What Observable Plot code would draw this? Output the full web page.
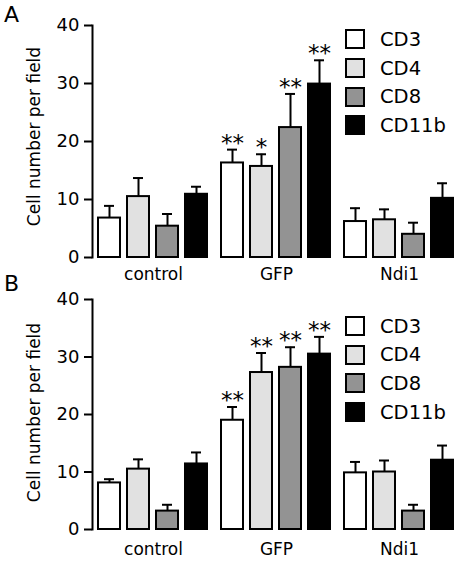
<!DOCTYPE html>
<html>
<head>
<meta charset="utf-8">
<script src="https://cdn.jsdelivr.net/npm/d3@7"></script>
<script src="https://cdn.jsdelivr.net/npm/@observablehq/plot@0.6"></script>
<style>
  html, body { margin: 0; padding: 0; background: white; }
  #wrap { position: relative; width: 459px; height: 562px; overflow: hidden;
          font-family: "DejaVu Sans", sans-serif; color: black; }
  .panel { position: absolute; left: 0; }
  .letter { position: absolute; font-size: 22px; line-height: 22px; }
  .legend { position: absolute; left: 345px; font-size: 19.5px; }
  .legend .row { display: flex; align-items: center; height: 28.7px; }
  .legend .sw { width: 20px; height: 20px; box-sizing: border-box; border: 2px solid black; margin-right: 15px; }
</style>
</head>
<body>
<div id="wrap"></div>
<script>
// ---- data ----
const groups = ["control", "GFP", "Ndi1"];
const series = ["CD3", "CD4", "CD8", "CD11b"];
const fills = ["white", "#e1e1e1", "#939393", "black"];
const yTicks = [0, 10, 20, 30, 40];
const yLabel = "Cell number per field";

// Panel A (rows = groups, columns = series)
const meansA  = [[6.8, 10.5, 5.4, 10.9], [16.3, 15.7, 22.4, 29.9], [6.2, 6.5, 4.0, 10.2]];
const errorsA = [[2.1, 3.2, 2.1, 1.3], [2.3, 2.1, 5.8, 4.1], [2.3, 1.8, 2.0, 2.6]];
const starsA  = [["", "", "", ""], ["**", "*", "**", "**"], ["", "", "", ""]];

// Panel B
const meansB  = [[8.1, 10.5, 3.2, 11.4], [19.0, 27.3, 28.2, 30.5], [9.85, 10.0, 3.2, 12.05]];
const errorsB = [[0.65, 1.7, 1.1, 2.0], [2.3, 3.4, 3.5, 3.0], [1.9, 2.0, 1.1, 2.55]];
const starsB  = [["", "", "", ""], ["**", "**", "**", "**"], ["", "", "", ""]];

function table(means, errors, stars) {
  const rows = [];
  groups.forEach((g, i) => series.forEach((s, j) => rows.push({
    group: g, series: s, mean: means[i][j], upper: means[i][j] + errors[i][j], stars: stars[i][j]
  })));
  return rows;
}

function panel(rows, o) {
  return Plot.plot({
    width: 459, height: 281,
    marginLeft: 97, marginRight: 5, marginTop: o.marginTop, marginBottom: o.marginBottom,
    style: { fontFamily: "'DejaVu Sans', sans-serif", fontSize: "17px", color: "black", background: "transparent", overflow: "visible" },
    fx: { domain: groups, paddingInner: 0.107, paddingOuter: 0, axis: null, label: null },
    x: { domain: series, paddingInner: 0.225, paddingOuter: 0, axis: null },
    y: { domain: [0, 40], axis: null },
    color: { domain: series, range: fills },
    marks: [
      Plot.barY(rows, { fx: "group", x: "series", y: "mean", fill: "series", stroke: "black", strokeWidth: 2 }),
      Plot.ruleX(rows, { fx: "group", x: "series", y1: "mean", y2: "upper", stroke: "black", strokeWidth: 2 }),
      Plot.tickY(rows, { fx: "group", x: "series", y: "upper", stroke: "black", strokeWidth: 2, insetLeft: 6, insetRight: 6 }),
      Plot.text(rows, { fx: "group", x: "series", y: "upper", text: "stars", fill: "black", fontSize: 23, lineAnchor: "bottom", dy: 1 }),
      Plot.axisY({ ticks: yTicks, tickSize: 8, tickPadding: 5, dx: -6, strokeWidth: 2, tickFormat: d => String(d), label: null, fontSize: 18, fill: "black" }),
      Plot.frame({ anchor: "left", dx: -6, strokeWidth: 2, facetAnchor: "left" }),
      Plot.axisFx({ anchor: "bottom", tickSize: 0, tickPadding: o.labelPad, label: null, fontSize: 17, fill: "black" }),
      Plot.text([yLabel], { frameAnchor: "left", textAnchor: "middle", rotate: -90, dx: -64, dy: o.labelDy, fontSize: 17, fill: "black", facetAnchor: "left" })
    ]
  });
}

const wrap = document.getElementById("wrap");

function addPanel(top, rows, o, letter, letterTop, legendTop) {
  const div = document.createElement("div");
  div.className = "panel";
  div.style.top = top + "px";
  div.appendChild(panel(rows, o));
  wrap.appendChild(div);

  const L = document.createElement("div");
  L.className = "letter";
  L.style.top = letterTop + "px";
  L.style.left = "4px";
  L.textContent = letter;
  wrap.appendChild(L);

  const leg = document.createElement("div");
  leg.className = "legend";
  leg.style.top = legendTop + "px";
  series.forEach((s, i) => {
    const r = document.createElement("div");
    r.className = "row";
    const sw = document.createElement("div");
    sw.className = "sw";
    sw.style.background = fills[i];
    const t = document.createElement("span");
    t.textContent = s;
    r.appendChild(sw); r.appendChild(t);
    leg.appendChild(r);
  });
  wrap.appendChild(leg);
}

addPanel(0, table(meansA, errorsA, starsA), { marginTop: 25, marginBottom: 24, labelPad: 10, labelDy: -5 }, "A", 4, 25);
addPanel(281, table(meansB, errorsB, starsB), { marginTop: 18, marginBottom: 33, labelPad: 13, labelDy: -2 }, "B", 273, 311.7);
</script>
</body>
</html>
